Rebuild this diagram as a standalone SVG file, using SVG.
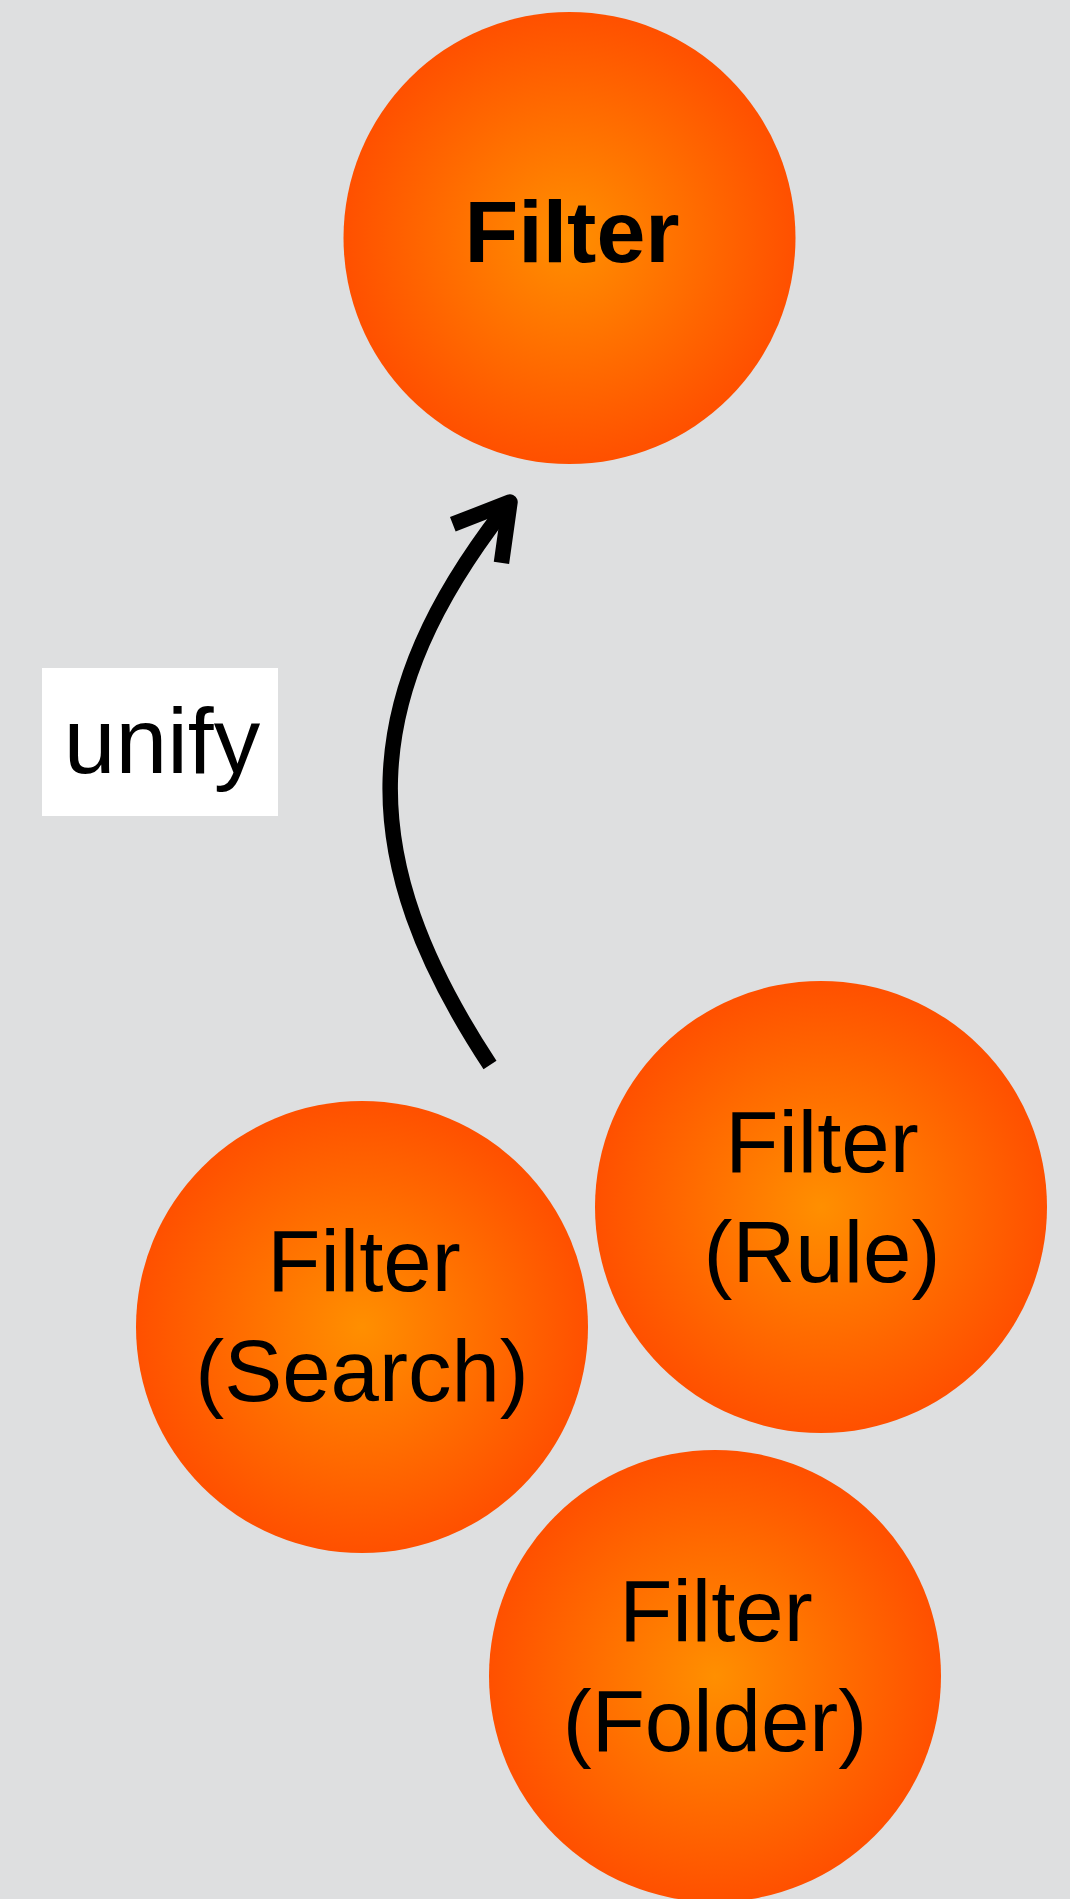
<svg xmlns="http://www.w3.org/2000/svg" width="1070" height="1899" viewBox="0 0 1070 1899">
<style>
.ball{fill:url(#orange)}
.lbl{font-family:"Liberation Sans",Arial,sans-serif;font-size:87px;fill:#000;text-anchor:middle}
.bold{font-weight:bold;font-size:88px}
.conn{fill:none;stroke:#000;stroke-width:15.5}
</style>
<defs>
<radialGradient id="orange" cx="50%" cy="50%" r="50%">
<stop offset="0" stop-color="#FF8F00"/>
<stop offset="1" stop-color="#FF5000"/>
</radialGradient>
<marker id="head" markerUnits="userSpaceOnUse" orient="auto" viewBox="-80 -50 100 100" markerWidth="100" markerHeight="100" refX="0" refY="0" overflow="visible">
<path d="M -53 -31 L 0 0 L -53 31" fill="none" stroke="#000" stroke-width="15.5" stroke-linejoin="round" stroke-linecap="butt"/>
</marker>
</defs>
<rect width="1070" height="1899" fill="#DEDFE0"/>
<g id="node-filter">
<circle class="ball" cx="569.5" cy="238" r="226"/>
<text class="lbl bold" x="572" y="262">Filter</text>
</g>
<g id="node-rule">
<circle class="ball" cx="821" cy="1207" r="226"/>
<text class="lbl" x="822" y="1172">Filter</text>
<text class="lbl" x="822" y="1282">(Rule)</text>
</g>
<g id="node-search">
<circle class="ball" cx="362" cy="1327" r="226"/>
<text class="lbl" x="364" y="1291">Filter</text>
<text class="lbl" x="362" y="1401">(Search)</text>
</g>
<g id="node-folder">
<circle class="ball" cx="715" cy="1676" r="226"/>
<text class="lbl" x="716" y="1641">Filter</text>
<text class="lbl" x="715" y="1751">(Folder)</text>
</g>
<g id="connectors">
<path class="conn" d="M 490 1065 C 352.5 856, 355 698, 510 502" marker-end="url(#head)"/>
<g id="label-unify">
<rect x="42" y="668" width="236" height="148" fill="#FFFFFF"/>
<text class="lbl" style="font-size:93px" x="162" y="773">unify</text>
</g>
</g>
</svg>
